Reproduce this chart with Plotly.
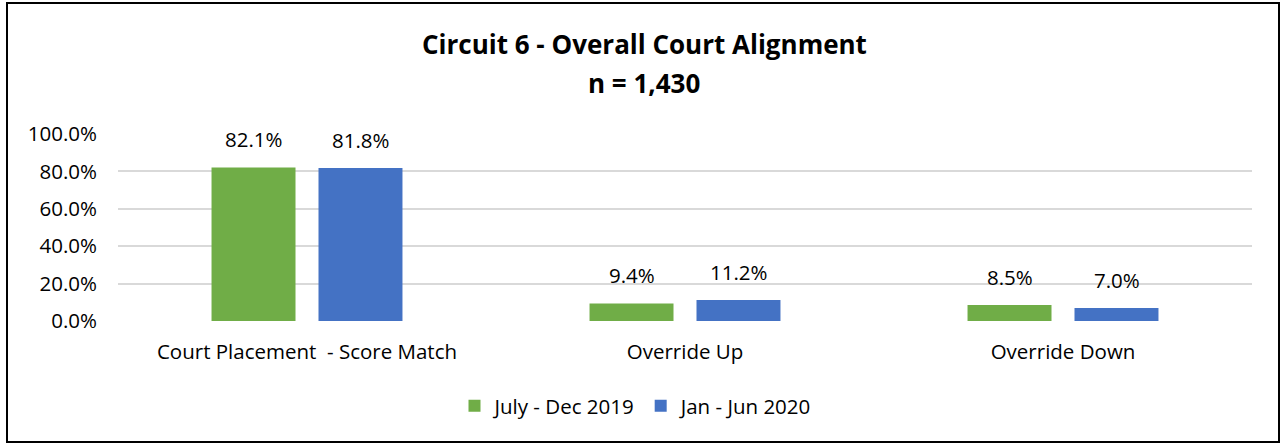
import plotly.graph_objects as go

categories = ["Court Placement  - Score Match", "Override Up", "Override Down"]
series_names = ["July - Dec 2019", "Jan - Jun 2020"]
values_2019 = [82.1, 9.4, 8.5]
values_2020 = [81.8, 11.2, 7.0]
colors = ["#70AD47", "#4472C4"]
y_ticks = [0, 20, 40, 60, 80, 100]
title_line1 = "Circuit 6 - Overall Court Alignment"
title_line2 = "n = 1,430"

W, H = 1282, 445
L, R, T, B = 118, 30, 134, 124
pw, ph = W - L - R, H - T - B
FONT = "Open Sans"
FS = 20.5

fig = go.Figure()
for name, vals, col in zip(series_names, [values_2019, values_2020], colors):
    fig.add_trace(go.Bar(x=categories, y=vals, name=name, marker_color=col,
                         marker_line_width=0))

# data labels
offsets = [-53.5, 53.5]
for vals, dx in zip([values_2019, values_2020], offsets):
    for c, v in zip(categories, vals):
        fig.add_annotation(x=c, y=v, xref="x", yref="y", text=f"{v:.1f}%",
                           showarrow=False, xshift=dx, yshift=12, yanchor="bottom",
                           font=dict(family=FONT, size=FS, color="#000000"))

def px_x(p):
    return (p - L) / pw

def px_y(p):
    return (H - B - p) / ph

fig.add_annotation(xref="paper", yref="paper", x=px_x(644), y=px_y(44), text=f"<b>{title_line1}</b>",
                   showarrow=False, xanchor="center", yanchor="middle",
                   font=dict(family=FONT, size=26, color="#000000"))
fig.add_annotation(xref="paper", yref="paper", x=px_x(644), y=px_y(83), text=f"<b>{title_line2}</b>",
                   showarrow=False, xanchor="center", yanchor="middle",
                   font=dict(family=FONT, size=26, color="#000000"))

fig.add_shape(type="rect", xref="paper", yref="paper",
              x0=px_x(7), x1=px_x(1279), y0=px_y(442), y1=px_y(3),
              line=dict(color="#000000", width=2), fillcolor="rgba(0,0,0,0)", layer="above")

fig.update_layout(
    width=W, height=H,
    margin=dict(l=L, r=R, t=T, b=B, pad=0),
    paper_bgcolor="#FFFFFF", plot_bgcolor="#FFFFFF",
    barmode="group", bargap=0.434, bargroupgap=0.215,
    font=dict(family=FONT, size=FS, color="#000000"),
    showlegend=True,
    legend=dict(orientation="h", x=px_x(636), xanchor="center", y=px_y(406), yanchor="middle",
                font=dict(family=FONT, size=FS, color="#000000"), itemwidth=30,
                bgcolor="rgba(0,0,0,0)"),
    xaxis=dict(showgrid=False, showline=False, zeroline=False, ticks="",
               ticklabelstandoff=16, tickfont=dict(family=FONT, size=FS)),
    yaxis=dict(range=[0, 100], tickvals=y_ticks, ticktext=[f"{t:.1f}%" for t in y_ticks],
               showgrid=True, gridcolor="#D9D9D9", gridwidth=1.5, zeroline=False,
               showline=False, ticks="", ticklabelstandoff=20,
               tickfont=dict(family=FONT, size=FS)),
)

fig.write_html("out.html", config={"displayModeBar": False},
               post_script="document.body.style.margin='0';")
